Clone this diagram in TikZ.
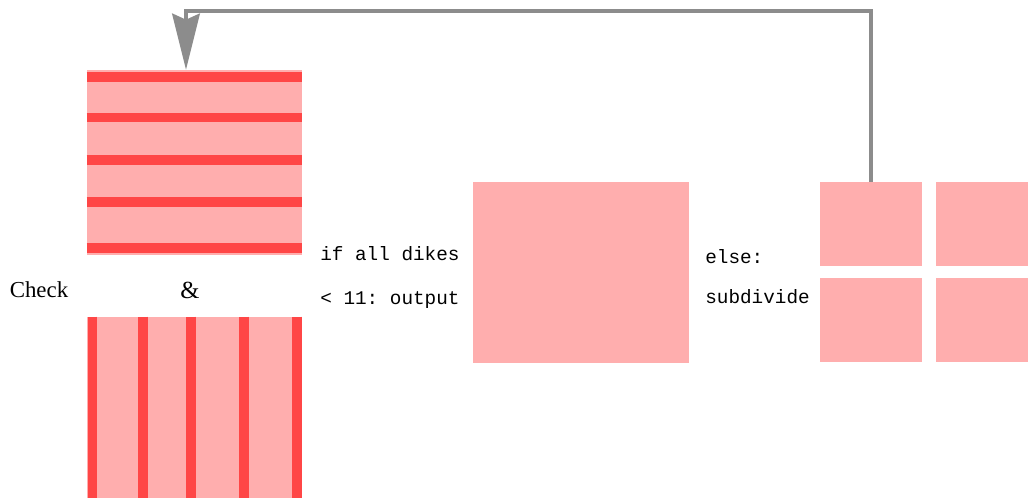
\documentclass[tikz,border=0pt]{standalone}
\usepackage{fontspec}
\setmainfont{Liberation Serif}
\setmonofont{Liberation Mono}
\usetikzlibrary{arrows.meta, positioning, calc}
\definecolor{cPink}{HTML}{FFAEAE}
\definecolor{cRed}{HTML}{FF4646}
\definecolor{cGray}{HTML}{8C8C8C}
\tikzset{
  tile/.style={
    fill=cPink, draw=none, inner sep=0pt,
    minimum width=#1,
  },
  stripe/.style={cRed, line width=0.2cm},
  looparw/.style={-{Stealth[length=1.12cm, width=0.55cm, inset=0.12cm]},
    cGray, line width=0.08cm},
  lbl/.style={font=\ttfamily\fontsize{11}{13}\selectfont, anchor=west, inner sep=0pt},
}

\begin{document}
\begin{tikzpicture}[x=0.02cm, y=0.02cm]
  \useasboundingbox (0,0) rectangle (1028,498);

  % striped blocks: rows on top, columns below
  \node[tile=4.3cm, minimum height=3.7cm] (rows) at (194.5,335.5) {};
  \foreach \y in {421, 380.5, 338.5, 296.5, 250.5} {
    \draw[stripe] (rows.west |- 0,\y) -- (rows.east |- 0,\y);
  }
  \node[tile=4.3cm, minimum height=3.62cm] (cols) at (194.5,90.5) {};
  \foreach \x in {92.5, 142.5, 190.5, 244, 296.5} {
    \draw[stripe] (\x,0 |- cols.north) -- (\x,0 |- cols.south);
  }

  % whole cell and its four children
  \node[tile=4.32cm, minimum height=3.62cm] (cell) at (581,225.5) {};
  \node[tile=2.04cm, minimum height=1.68cm] (q1) at (871,274) {};
  \node[tile=2.04cm, minimum height=1.68cm] (q2) at (987,274) {};
  \node[tile=2.04cm, minimum height=1.68cm] (q3) at (871,178) {};
  \node[tile=2.04cm, minimum height=1.68cm] (q4) at (987,178) {};

  % labels
  \node[font=\fontsize{13}{15}\selectfont] (check) at (39,208) {Check};
  \node[font=\fontsize{14}{16}\selectfont] (amp) at (190,208) {\&};
  \node[lbl] (cond1) at (320,244) {if all dikes};
  \node[lbl] (cond2) at (320,198) {< 11: output};
  \node[lbl] (else1) at (705,241) {else:};
  \node[lbl] (else2) at (705,201) {subdivide};

  % feedback loop back to the check
  \coordinate (rtop) at ([xshift=-0.17cm]rows.north);
  \draw[looparw] (q1.north) -- (871,487) -| (rtop);
\end{tikzpicture}
\end{document}
